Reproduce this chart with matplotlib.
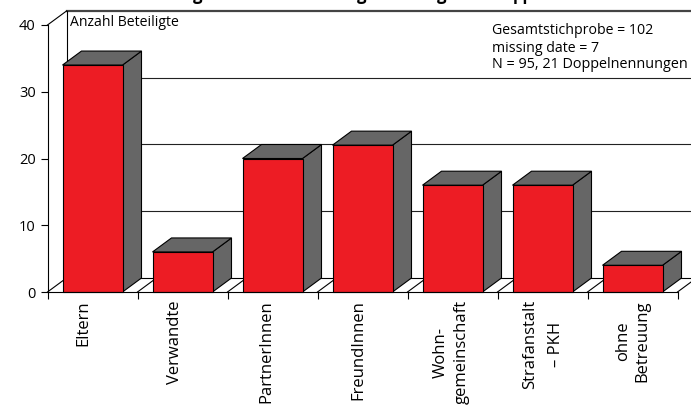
import matplotlib
matplotlib.use('Agg')
import matplotlib.pyplot as plt
from matplotlib.patches import Polygon, Rectangle

plt.rcParams['font.family'] = ['Open Sans', 'DejaVu Sans']

labels = ['Eltern', 'Verwandte', 'PartnerInnen', 'FreundInnen',
          'Wohn-\ngemeinschaft', 'Strafanstalt\n– PKH', 'ohne\nBetreuung']
values = [34, 6, 20, 22, 16, 16, 4]
gridlines = [10, 20, 30]
yticks = [0, 10, 20, 30, 40]
# only the lower ends of the heading letters fall inside the canvas
heading_parts = ['g', 'g', 'g', 'pp']
heading_x = [193, 357, 437, 513]

RED = '#ed1c24'
GREY = '#666666'
W, H = 691, 408

fig = plt.figure(figsize=(W / 100, H / 100), dpi=100)
ax = fig.add_axes([47.5 / W, (H - 292) / H, 630 / W, 267 / H])
ax.set_xlim(0, 7)
ax.set_ylim(0, 40)
ax.patch.set_alpha(0)

# depth of the 3d box, in data units
dx = 19 / 90
dy = 14 / 6.675

# back wall and floor
ax.plot([dx, 7 + dx], [40 + dy, 40 + dy], color='#444444', lw=1.6, clip_on=False, zorder=1)
for g in gridlines:
    ax.plot([dx, 7 + dx], [g + dy, g + dy], color='#222222', lw=0.8, clip_on=False, zorder=1)
ax.plot([dx, dx], [dy, 40 + dy], color='k', lw=0.8, clip_on=False, zorder=1)
ax.plot([0, dx], [40, 40 + dy], color='k', lw=0.8, clip_on=False, zorder=1)
ax.plot([dx, 7 + dx], [dy, dy], color='k', lw=0.8, clip_on=False, zorder=1)
for i in range(8):
    ax.plot([i, i + dx], [0, dy], color='k', lw=0.8, clip_on=False, zorder=1)

# boxes
for i, v in enumerate(values):
    x0 = i + 1 / 6
    x1 = x0 + 2 / 3
    ax.add_patch(Polygon([(x1, 0), (x1 + dx, dy), (x1 + dx, v + dy), (x1, v)],
                         fc=GREY, ec='k', lw=0.8, clip_on=False, zorder=3))
    ax.add_patch(Polygon([(x0, v), (x0 + dx, v + dy), (x1 + dx, v + dy), (x1, v)],
                         fc=GREY, ec='k', lw=0.8, clip_on=False, zorder=3))
    ax.add_patch(Rectangle((x0, 0), x1 - x0, v, fc=RED, ec='k', lw=0.8,
                           clip_on=False, zorder=4))

for s in ['top', 'right']:
    ax.spines[s].set_visible(False)
for s in ['left', 'bottom']:
    ax.spines[s].set_linewidth(0.8)
    ax.spines[s].set_zorder(5)

ax.set_yticks(yticks)
ax.set_xticks(range(8))
ax.set_xticklabels([])
ax.tick_params(axis='y', length=5.4, width=0.8, labelsize=10.5, pad=3)
ax.tick_params(axis='x', length=5, width=0.8)

# category names, rotated; two-line names get their own line spacing
label_cx = [83, 175, 266, 358, 451, 543, 632.5]
spacing = [1, 1, 1, 1, 1.45, 1.85, 1.3]
for lab, cx, ls in zip(labels, label_cx, spacing):
    fig.text(cx / W, 1 - 300 / H, lab, rotation=90, ha='center', va='top',
             fontsize=12, multialignment='center', linespacing=ls)

fig.text(70 / W, 1 - 23 / H, 'Anzahl Beteiligte', fontsize=10.1, va='center')
fig.text(492 / W, 1 - 31 / H, 'Gesamtstichprobe = 102', fontsize=10.2, va='center')
fig.text(492 / W, 1 - 48 / H, 'missing date = 7', fontsize=10.2, va='center')
fig.text(492 / W, 1 - 64 / H, 'N = 95, 21 Doppelnennungen', fontsize=10.4, va='center')

for part, px in zip(heading_parts, heading_x):
    fig.text(px / W, 1 - 0 / H, part, fontsize=12, fontweight='bold', va='baseline')

fig.savefig('out.png', dpi=100)
